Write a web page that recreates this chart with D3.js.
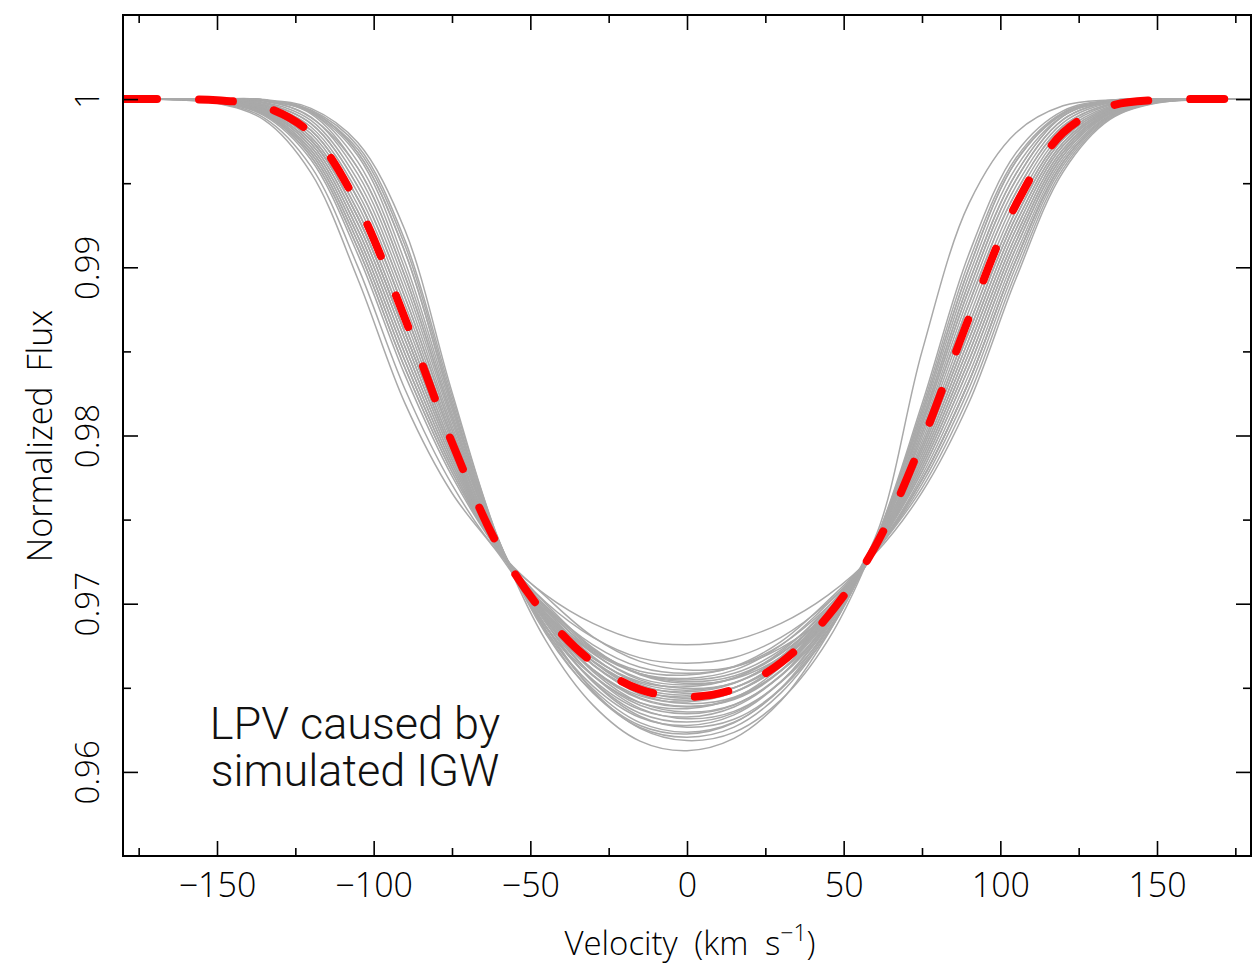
<!DOCTYPE html>
<html>
<head>
<meta charset="utf-8">
<script src="https://cdn.jsdelivr.net/npm/d3@7"></script>
<style>
  html, body { margin: 0; padding: 0; background: #fff; }
  svg { display: block; }
  .axis-text { font-family: "Open Sans", "Liberation Sans", sans-serif; font-weight: 300; fill: #000; }
</style>
</head>
<body>
<svg id="chart"></svg>
<script>
// velocity grid (km/s) shared by every profile
const velocity = [-180, -165, -150, -135, -120, -105, -90, -75, -60, -45, -30, -15, 0,
                  15, 30, 45, 60, 75, 90, 105, 120, 135, 150, 165, 180];

// mean line profile (red dashed)
const meanFlux = [1, 1, 0.99993, 0.99955, 0.99795, 0.99368, 0.98695, 0.97958, 0.97335, 0.96927, 0.96650, 0.96490, 0.96446,
                  0.96492, 0.96650, 0.96927, 0.97338, 0.97962, 0.98700, 0.99373, 0.99800, 0.99958, 0.99995, 1, 1];

// individual simulated profiles (grey)
const p01 = [1, 0.99997, 0.99978, 0.99889, 0.99600, 0.99001, 0.98275, 0.97708, 0.97301, 0.97051, 0.96883, 0.96781, 0.96756, 0.96783, 0.96883, 0.97051, 0.97297, 0.97662, 0.98196, 0.98933, 0.99566, 0.99879, 0.99977, 0.99997, 1];
const p02 = [1, 0.99997, 0.99975, 0.99876, 0.99561, 0.98928, 0.98191, 0.97658, 0.97294, 0.96900, 0.96610, 0.96440, 0.96390, 0.96430, 0.96600, 0.96930, 0.97390, 0.98500, 0.99380, 0.99800, 0.99960, 0.99995, 1, 1, 1];
const p03 = [1, 0.99998, 0.99983, 0.99909, 0.99659, 0.99111, 0.98401, 0.97783, 0.97311, 0.97007, 0.96800, 0.96678, 0.96646, 0.96680, 0.96800, 0.97007, 0.97307, 0.97737, 0.98322, 0.99043, 0.99625, 0.99899, 0.99982, 0.99998, 1];
const p04 = [1, 1, 0.99984, 0.99915, 0.99678, 0.99148, 0.98443, 0.97808, 0.97315, 0.97041, 0.96803, 0.96657, 0.96606, 0.96625, 0.96737, 0.96941, 0.97318, 0.97812, 0.98448, 0.99153, 0.99683, 0.99918, 0.99986, 1, 1];
const p05 = [1, 1, 0.99987, 0.99929, 0.99717, 0.99221, 0.98527, 0.97858, 0.97321, 0.96939, 0.96721, 0.96599, 0.96576, 0.96627, 0.96775, 0.97019, 0.97311, 0.97762, 0.98364, 0.99079, 0.99644, 0.99905, 0.99983, 0.99998, 1];
const p06 = [1, 1, 0.99989, 0.99935, 0.99736, 0.99258, 0.98569, 0.97883, 0.97325, 0.96967, 0.96725, 0.96584, 0.96546, 0.96586, 0.96725, 0.96967, 0.97324, 0.97862, 0.98532, 0.99226, 0.99722, 0.99932, 0.99989, 1, 1];
const p07 = [1, 1, 0.99990, 0.99942, 0.99756, 0.99295, 0.98611, 0.97908, 0.97328, 0.96999, 0.96737, 0.96578, 0.96526, 0.96554, 0.96683, 0.96919, 0.97321, 0.97837, 0.98490, 0.99189, 0.99702, 0.99925, 0.99988, 1, 1];
const p08 = [1, 1, 0.99990, 0.99942, 0.99756, 0.99295, 0.98611, 0.97908, 0.97328, 0.96921, 0.96675, 0.96536, 0.96506, 0.96558, 0.96715, 0.96981, 0.97335, 0.97937, 0.98658, 0.99336, 0.99780, 0.99951, 0.99993, 1, 1];
const p09 = [1, 1, 0.99992, 0.99948, 0.99775, 0.99331, 0.98653, 0.97933, 0.97332, 0.96943, 0.96680, 0.96528, 0.96486, 0.96530, 0.96680, 0.96943, 0.97328, 0.97887, 0.98574, 0.99263, 0.99741, 0.99938, 0.99991, 1, 1];
const p10 = [1, 1, 0.99993, 0.99955, 0.99795, 0.99368, 0.98695, 0.97958, 0.97335, 0.96965, 0.96685, 0.96519, 0.96466, 0.96501, 0.96645, 0.96905, 0.97331, 0.97912, 0.98616, 0.99300, 0.99761, 0.99945, 0.99992, 1, 1];
const p11 = [1, 1, 0.99995, 0.99962, 0.99815, 0.99405, 0.98737, 0.97983, 0.97338, 0.96907, 0.96637, 0.96483, 0.96446, 0.96499, 0.96663, 0.96947, 0.97338, 0.97962, 0.98700, 0.99373, 0.99800, 0.99958, 0.99995, 1, 1];
const p12 = [1, 1, 0.99995, 0.99962, 0.99815, 0.99405, 0.98737, 0.97983, 0.97338, 0.96919, 0.96635, 0.96471, 0.96426, 0.96473, 0.96635, 0.96919, 0.97335, 0.97937, 0.98658, 0.99336, 0.99780, 0.99951, 0.99993, 1, 1];
const p13 = [1, 1, 0.99996, 0.99968, 0.99834, 0.99441, 0.98779, 0.98008, 0.97342, 0.96941, 0.96640, 0.96462, 0.96406, 0.96444, 0.96600, 0.96881, 0.97341, 0.97987, 0.98742, 0.99410, 0.99820, 0.99965, 0.99997, 1, 1];
const p14 = [1, 1, 0.99997, 0.99975, 0.99854, 0.99478, 0.98821, 0.98033, 0.97345, 0.96859, 0.96571, 0.96411, 0.96376, 0.96439, 0.96625, 0.96939, 0.97345, 0.98012, 0.98784, 0.99446, 0.99839, 0.99971, 0.99998, 1, 1];
const p15 = [1, 1, 0.99998, 0.99981, 0.99873, 0.99515, 0.98863, 0.98058, 0.97349, 0.96887, 0.96575, 0.96396, 0.96346, 0.96398, 0.96575, 0.96887, 0.97348, 0.98037, 0.98826, 0.99483, 0.99859, 0.99978, 0.99999, 1, 1];
const p16 = [1, 1, 0.99999, 0.99988, 0.99893, 0.99552, 0.98905, 0.98083, 0.97352, 0.96905, 0.96573, 0.96378, 0.96316, 0.96360, 0.96533, 0.96845, 0.97355, 0.98087, 0.98910, 0.99557, 0.99898, 0.99991, 1, 1, 1];
const p17 = [1, 1, 1, 0.99993, 0.99920, 0.99625, 0.98989, 0.98133, 0.97359, 0.96839, 0.96510, 0.96323, 0.96276, 0.96339, 0.96536, 0.96879, 0.97355, 0.98087, 0.98910, 0.99557, 0.99898, 0.99991, 1, 1, 1];
const p18 = [1, 1, 1, 0.99990, 0.99920, 0.99662, 0.99031, 0.98158, 0.97362, 0.96843, 0.96493, 0.96293, 0.96236, 0.96295, 0.96493, 0.96843, 0.97362, 0.98137, 0.98994, 0.99630, 0.99915, 0.99990, 1, 1, 1];
const p19 = [1, 1, 1, 0.99993, 0.99925, 0.99700, 0.99130, 0.98208, 0.97369, 0.96863, 0.96482, 0.96259, 0.96186, 0.96235, 0.96428, 0.96783, 0.97358, 0.98112, 0.98952, 0.99593, 0.99900, 0.99985, 1, 1, 1];
const p20 = [1, 1, 1, 0.99994, 0.99935, 0.99720, 0.99160, 0.98233, 0.97372, 0.96779, 0.96397, 0.96183, 0.96126, 0.96199, 0.96423, 0.96819, 0.97362, 0.98137, 0.98994, 0.99630, 0.99910, 0.99988, 1, 1, 1];
const p21 = [1, 0.99998, 0.99981, 0.99902, 0.99639, 0.99074, 0.98359, 0.97758, 0.97308, 0.96983, 0.96755, 0.96622, 0.96586, 0.96624, 0.96755, 0.96983, 0.97304, 0.97712, 0.98280, 0.99006, 0.99605, 0.99892, 0.99980, 0.99998, 1];
const p22 = [1, 1, 0.99984, 0.99915, 0.99678, 0.99148, 0.98443, 0.97808, 0.97315, 0.96941, 0.96713, 0.96583, 0.96556, 0.96605, 0.96753, 0.97001, 0.97307, 0.97737, 0.98322, 0.99043, 0.99624, 0.99899, 0.99982, 0.99998, 1];
const p23 = [1, 1, 0.99986, 0.99922, 0.99697, 0.99184, 0.98485, 0.97833, 0.97318, 0.96983, 0.96731, 0.96582, 0.96536, 0.96570, 0.96705, 0.96943, 0.97301, 0.97687, 0.98238, 0.98969, 0.99585, 0.99885, 0.99979, 0.99997, 1];
const p24 = [1, 1, 0.99983, 0.99909, 0.99658, 0.99111, 0.98401, 0.97783, 0.97311, 0.96955, 0.96703, 0.96556, 0.96516, 0.96558, 0.96703, 0.96955, 0.97314, 0.97787, 0.98406, 0.99116, 0.99663, 0.99912, 0.99985, 1, 1];
const p25 = [1, 1, 0.99987, 0.99929, 0.99717, 0.99221, 0.98527, 0.97858, 0.97321, 0.96977, 0.96708, 0.96547, 0.96496, 0.96529, 0.96668, 0.96917, 0.97307, 0.97737, 0.98322, 0.99043, 0.99624, 0.99899, 0.99982, 0.99998, 1];
const p26 = [1, 1, 0.99989, 0.99935, 0.99736, 0.99258, 0.98569, 0.97883, 0.97325, 0.96919, 0.96660, 0.96511, 0.96476, 0.96527, 0.96686, 0.96959, 0.97318, 0.97812, 0.98448, 0.99153, 0.99683, 0.99918, 0.99986, 1, 1];
const p27 = [1, 1, 0.99986, 0.99922, 0.99697, 0.99184, 0.98485, 0.97833, 0.97318, 0.96931, 0.96658, 0.96499, 0.96456, 0.96501, 0.96658, 0.96931, 0.97324, 0.97862, 0.98532, 0.99226, 0.99722, 0.99932, 0.99989, 1, 1];
const p28 = [1, 1, 0.99990, 0.99942, 0.99756, 0.99295, 0.98611, 0.97908, 0.97328, 0.96943, 0.96656, 0.96488, 0.96436, 0.96476, 0.96630, 0.96903, 0.97314, 0.97787, 0.98406, 0.99116, 0.99663, 0.99912, 0.99985, 1, 1];
const p29 = [1, 1, 0.99992, 0.99948, 0.99775, 0.99331, 0.98653, 0.97933, 0.97332, 0.96895, 0.96608, 0.96452, 0.96416, 0.96474, 0.96648, 0.96945, 0.97321, 0.97837, 0.98490, 0.99189, 0.99702, 0.99925, 0.99988, 1, 1];
const p30 = [1, 1, 0.99995, 0.99962, 0.99815, 0.99405, 0.98737, 0.97983, 0.97338, 0.96903, 0.96605, 0.96434, 0.96386, 0.96436, 0.96605, 0.96903, 0.97328, 0.97887, 0.98574, 0.99263, 0.99741, 0.99938, 0.99991, 1, 1];
const p31 = [1, 1, 0.99999, 0.99995, 0.99912, 0.99588, 0.98947, 0.98108, 0.97355, 0.96911, 0.96596, 0.96412, 0.96356, 0.96400, 0.96570, 0.96871, 0.97331, 0.97912, 0.98616, 0.99300, 0.99761, 0.99945, 0.99992, 1, 1];
const p32 = [1, 1, 1, 0.99993, 0.99930, 0.99680, 0.99090, 0.98183, 0.97366, 0.96859, 0.96547, 0.96370, 0.96326, 0.96386, 0.96573, 0.96899, 0.97345, 0.98012, 0.98784, 0.99446, 0.99839, 0.99971, 0.99998, 1, 1];
const p33 = [1, 1, 0.99998, 0.99975, 0.99854, 0.99478, 0.98821, 0.98033, 0.97345, 0.96867, 0.96538, 0.96349, 0.96296, 0.96351, 0.96538, 0.96867, 0.97352, 0.98062, 0.98868, 0.99520, 0.99878, 0.99984, 1, 1, 1];
const p34 = [1, 1, 1, 0.99995, 0.99890, 0.99588, 0.98947, 0.98108, 0.97355, 0.96885, 0.96535, 0.96331, 0.96266, 0.96313, 0.96495, 0.96825, 0.97365, 0.98162, 0.99036, 0.99650, 0.99920, 0.99990, 1, 1, 1];
const p35 = [1, 1, 1, 0.99997, 0.99945, 0.99740, 0.99220, 0.98258, 0.97376, 0.96819, 0.96472, 0.96276, 0.96226, 0.96292, 0.96498, 0.96859, 0.97352, 0.98062, 0.98868, 0.99520, 0.99878, 0.99984, 1, 1, 1];
const p36 = [1, 1, 1, 0.99993, 0.99930, 0.99680, 0.99090, 0.98183, 0.97366, 0.96831, 0.96470, 0.96264, 0.96206, 0.96266, 0.96470, 0.96831, 0.97369, 0.98187, 0.99080, 0.99680, 0.99930, 0.99993, 1, 1, 1];
const profiles = [p01, p02, p03, p04, p05, p06, p07, p08, p09, p10, p11, p12,
                  p13, p14, p15, p16, p17, p18, p19, p20, p21, p22, p23, p24,
                  p25, p26, p27, p28, p29, p30, p31, p32, p33, p34, p35, p36];

// ticks
const xMajorTicks = [-150, -100, -50, 0, 50, 100, 150];
const xMinorTicks = [-175, -125, -75, -25, 25, 75, 125, 175];
const yMajorTicks = [0.96, 0.97, 0.98, 0.99, 1];
const yMinorTicks = [0.965, 0.975, 0.985, 0.995];

const width = 1253, height = 967;
const margin = { top: 15, right: 2, bottom: 111, left: 123 };

const svg = d3.select("#chart").attr("width", width).attr("height", height);

const x = d3.scaleLinear().domain([-180, 180]).range([margin.left, width - margin.right]);
const y = d3.scaleLinear().domain([0.955, 1.005]).range([height - margin.bottom, margin.top]);

svg.append("defs").append("clipPath").attr("id", "plot-clip")
  .append("rect")
  .attr("x", margin.left).attr("y", margin.top)
  .attr("width", width - margin.left - margin.right)
  .attr("height", height - margin.top - margin.bottom);

const line = d3.line()
  .x((d, i) => x(velocity[i]))
  .y(d => y(d))
  .curve(d3.curveCatmullRom.alpha(0.5));

const plot = svg.append("g").attr("clip-path", "url(#plot-clip)");

plot.selectAll(".profile")
  .data(profiles)
  .enter().append("path")
  .attr("class", "profile")
  .attr("fill", "none")
  .attr("stroke", "#a9a9a9")
  .attr("stroke-width", 1.5)
  .attr("d", line);

plot.append("path")
  .datum(meanFlux)
  .attr("fill", "none")
  .attr("stroke", "#ff0000")
  .attr("stroke-width", 8)
  .attr("stroke-linecap", "round")
  .attr("stroke-dasharray", "34,42")
  .attr("d", line);

// frame
svg.append("rect")
  .attr("x", margin.left).attr("y", margin.top)
  .attr("width", width - margin.left - margin.right)
  .attr("height", height - margin.top - margin.bottom)
  .attr("fill", "none").attr("stroke", "#000").attr("stroke-width", 2);

function styleTicks(g) {
  g.select(".domain").remove();
  g.selectAll(".tick line").attr("stroke", "#000").attr("stroke-width", 1.6);
}

// bottom axis with labels
const xAxis = svg.append("g")
  .attr("transform", `translate(0,${height - margin.bottom})`)
  .call(d3.axisBottom(x).tickValues(xMajorTicks).tickSizeInner(-15).tickSizeOuter(0).tickPadding(17))
  .call(styleTicks);
xAxis.selectAll("text")
  .attr("class", "axis-text")
  .attr("font-size", 34)
  .attr("fill", "#000");

svg.append("g")
  .attr("transform", `translate(0,${height - margin.bottom})`)
  .call(d3.axisBottom(x).tickValues(xMinorTicks).tickSizeInner(-8).tickSizeOuter(0).tickFormat(""))
  .call(styleTicks);

// top axis
svg.append("g")
  .attr("transform", `translate(0,${margin.top})`)
  .call(d3.axisTop(x).tickValues(xMajorTicks).tickSizeInner(-15).tickSizeOuter(0).tickFormat(""))
  .call(styleTicks);
svg.append("g")
  .attr("transform", `translate(0,${margin.top})`)
  .call(d3.axisTop(x).tickValues(xMinorTicks).tickSizeInner(-8).tickSizeOuter(0).tickFormat(""))
  .call(styleTicks);

// left axis, rotated labels
const yAxis = svg.append("g")
  .attr("transform", `translate(${margin.left},0)`)
  .call(d3.axisLeft(y).tickValues(yMajorTicks).tickSizeInner(-15).tickSizeOuter(0).tickFormat(d3.format("")))
  .call(styleTicks);
yAxis.selectAll("text")
  .attr("class", "axis-text")
  .attr("font-size", 33)
  .attr("fill", "#000")
  .attr("transform", "rotate(-90)")
  .attr("x", 0)
  .attr("y", -24)
  .attr("dy", 0)
  .attr("text-anchor", "middle");

svg.append("g")
  .attr("transform", `translate(${margin.left},0)`)
  .call(d3.axisLeft(y).tickValues(yMinorTicks).tickSizeInner(-8).tickSizeOuter(0).tickFormat(""))
  .call(styleTicks);

// right axis
svg.append("g")
  .attr("transform", `translate(${width - margin.right},0)`)
  .call(d3.axisRight(y).tickValues(yMajorTicks).tickSizeInner(-15).tickSizeOuter(0).tickFormat(""))
  .call(styleTicks);
svg.append("g")
  .attr("transform", `translate(${width - margin.right},0)`)
  .call(d3.axisRight(y).tickValues(yMinorTicks).tickSizeInner(-8).tickSizeOuter(0).tickFormat(""))
  .call(styleTicks);

// axis titles
const xTitle = svg.append("text")
  .attr("class", "axis-text")
  .attr("x", 690)
  .attr("y", 955)
  .attr("text-anchor", "middle")
  .attr("font-size", 33)
  .attr("word-spacing", 8);
xTitle.append("tspan").text("Velocity (km s");
xTitle.append("tspan").attr("font-size", 23).attr("dy", -14).text("\u22121");
xTitle.append("tspan").attr("dy", 14).text(")");

svg.append("text")
  .attr("class", "axis-text")
  .attr("transform", "translate(52,436) rotate(-90)")
  .attr("text-anchor", "middle")
  .attr("font-size", 34)
  .attr("word-spacing", 6)
  .text("Normalized Flux");

// annotation
const note = svg.append("text")
  .attr("text-anchor", "middle")
  .attr("font-family", "Roboto, 'Liberation Sans', Arial, sans-serif")
  .attr("font-weight", 300)
  .attr("font-size", 45)
  .attr("fill", "#111");
note.append("tspan").attr("x", 355).attr("y", 739).text("LPV caused by");
note.append("tspan").attr("x", 355).attr("y", 786).text("simulated IGW");
</script>
</body>
</html>
